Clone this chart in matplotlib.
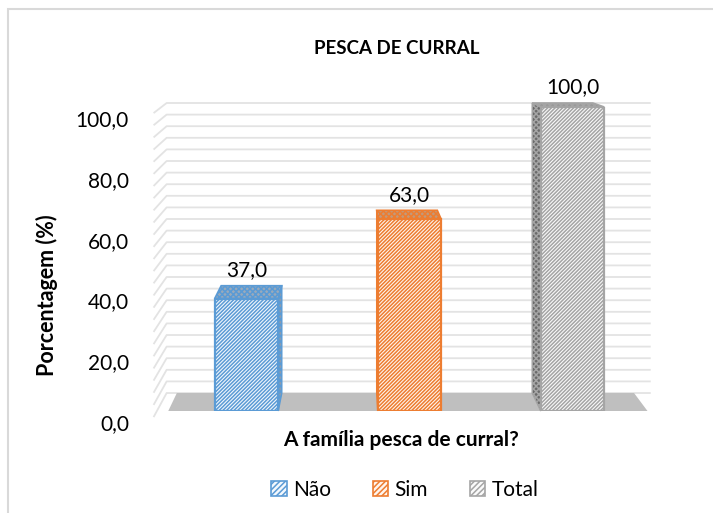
import matplotlib
matplotlib.use("Agg")
import matplotlib.pyplot as plt
from matplotlib.patches import Polygon, Patch, Rectangle
from matplotlib.transforms import ScaledTranslation
import numpy as np

# ---- data ----
categories = ["Não", "Sim", "Total"]
values = [37.0, 63.0, 100.0]
yticks = [0, 20, 40, 60, 80, 100]
ytick_labels = ["0,0", "20,0", "40,0", "60,0", "80,0", "100,0"]
value_labels = ["37,0", "63,0", "100,0"]
title = "PESCA DE CURRAL"
xlabel = "A família pesca de curral?"
ylabel = "Porcentagem (%)"

# ---- style ----
edge_colors = ["#5b9bd5", "#ed7d31", "#a5a5a5"]
face_colors = ["#f3f8fd", "#fff5ee", "#fafafa"]
top_colors = ["#9aaabb", "#c19a7c", "#9a9a9a"]
side_colors = ["#8a9cb0", "#b08868", "#6a6a6a"]
floor_color = "#bfbfbf"
grid_color = "#e3e3e3"
text_color = "#000000"

plt.rcParams["font.family"] = ["Lato", "DejaVu Sans"]
plt.rcParams["hatch.linewidth"] = 1.1

W, H = 713, 513
fig = plt.figure(figsize=(W / 100, H / 100), dpi=100)
fig.patch.set_facecolor("white")

# outer chart border (only top/left visible in the reference)
fig.add_artist(Rectangle((8 / W, -0.05), 1.2, 1 - 9 / H + 0.05, transform=fig.transFigure,
                         fill=False, edgecolor="#d9d9d9", linewidth=1.5))

ax = fig.add_axes([165 / W, (H - 411) / H, 489 / W, 304 / H])
ax.set_xlim(-0.5, 2.5)
ax.set_ylim(0, 100)
for s in ax.spines.values():
    s.set_visible(False)
ax.set_xticks([])
ax.set_yticks(yticks)
ax.set_yticklabels(ytick_labels, fontsize=15, color=text_color)
ax.tick_params(axis="y", length=0, pad=26)
off = ScaledTranslation(0, -8 / 72, fig.dpi_scale_trans)
for lab in ax.get_yticklabels():
    lab.set_transform(lab.get_transform() + off)

# perspective parameters (vanishing point in data coords and depth factor)
vpx, vpy, k = 0.666, 128.6, 0.046


def back(x, y):
    return x + k * (vpx - x), y + k * (vpy - y)


# gridlines on back wall with slanted left segment
xl_front, xl_back, xr = -0.57, -0.49, 2.48
for v in np.arange(0, 101, 4):
    _, vb = back(0, v)
    ax.plot([xl_front, xl_back, xr], [v - 2.0, vb, vb], color=grid_color, lw=1.3,
            clip_on=False, zorder=1, solid_capstyle="butt")

# floor
fx0, fx1 = -0.48, 2.46
bl = back(fx0, 0)
br = back(fx1, 0)
ax.add_patch(Polygon([(fx0, 0), bl, br, (fx1, 0)], closed=True, facecolor=floor_color,
                     edgecolor="none", zorder=2, clip_on=False))

width = 0.39
x = np.arange(len(categories))
bars = ax.bar(x, values, width=width, color=face_colors, edgecolor=edge_colors,
              linewidth=1.6, hatch="/" * 9, zorder=5)

for i, (xi, v) in enumerate(zip(x, values)):
    x0, x1 = xi - width / 2, xi + width / 2
    b_tl = back(x0, v)
    b_tr = back(x1, v)
    b_bl = back(x0, 0)
    b_br = back(x1, 0)
    # top face
    ax.add_patch(Polygon([(x0, v), (x1, v), b_tr, b_tl], closed=True,
                         facecolor=top_colors[i], edgecolor=edge_colors[i], linewidth=1.2,
                         hatch="x" * 6, zorder=4, clip_on=False))
    # visible side face
    dx = b_tl[0] - x0
    if dx > 0:
        pts = [(x1, v), b_tr, b_br, (x1, 0)]
    else:
        pts = [(x0, v), b_tl, b_bl, (x0, 0)]
    ax.add_patch(Polygon(pts, closed=True, facecolor=side_colors[i], edgecolor=edge_colors[i],
                         linewidth=1.0, hatch="x" * 6, zorder=4, clip_on=False))
    ax.annotate(value_labels[i], xy=(xi, max(b_tl[1], b_tr[1])), xytext=(0, 4),
                textcoords="offset points", ha="center", va="bottom",
                fontsize=15, color=text_color, zorder=6, annotation_clip=False)

fig.text(397 / W, 1 - 48 / H, title, ha="center", va="center", fontsize=13.5,
         fontweight="bold", color=text_color)
fig.text(401 / W, 1 - 440 / H, xlabel, ha="center", va="center", fontsize=15,
         fontweight="bold", color=text_color)
fig.text(47 / W, 1 - 295 / H, ylabel, ha="center", va="center", rotation=90,
         fontsize=15.5, fontweight="bold", color=text_color)

handles = [Patch(facecolor=face_colors[i], edgecolor=edge_colors[i], hatch="/" * 6,
                 linewidth=1.2, label=categories[i]) for i in range(3)]
fig.legend(handles=handles, loc="center", bbox_to_anchor=(405 / W, 1 - 490 / H),
           ncol=3, frameon=False, fontsize=15, handlelength=0.75, handleheight=0.75,
           handletextpad=0.3, columnspacing=2.0)

fig.savefig("out.png", dpi=100, facecolor="white")
